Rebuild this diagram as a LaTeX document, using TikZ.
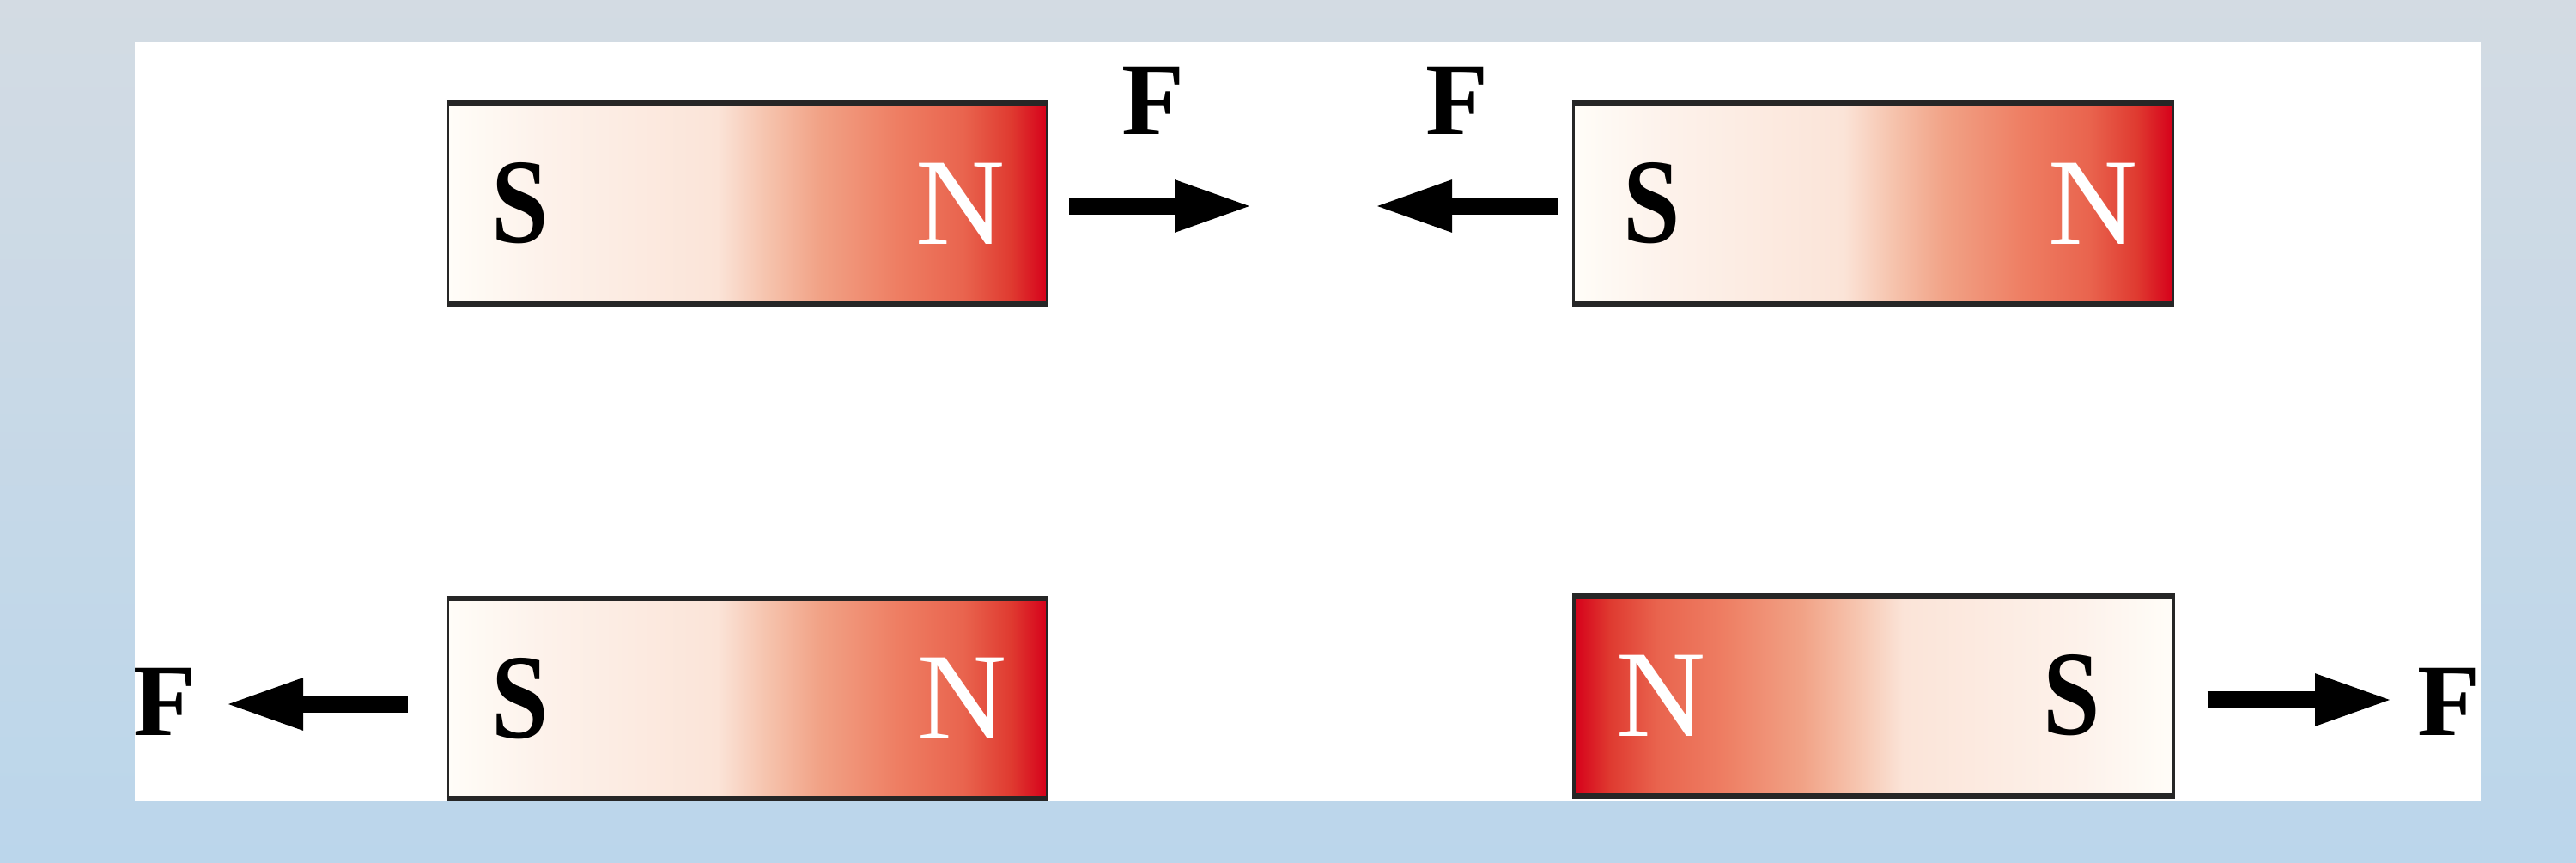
\documentclass[tikz,border=0pt]{standalone}
\usepackage{fontspec}
\setmainfont{Liberation Serif}
\usetikzlibrary{arrows.meta,positioning,calc}
\definecolor{SkyTop}{HTML}{D3DBE3}
\definecolor{SkyBottom}{HTML}{BBD6EB}
\definecolor{Rim}{HTML}{262626}
\definecolor{Cream}{HTML}{FFFDF8}
\definecolor{Blush}{HTML}{FDF2EB}
\definecolor{Peach}{HTML}{FBE4D8}
\definecolor{Apricot}{HTML}{F6C4AE}
\definecolor{Salmon}{HTML}{F1A286}
\definecolor{Coral}{HTML}{EE7E63}
\definecolor{Tomato}{HTML}{E9644E}
\definecolor{Scarlet}{HTML}{DF3A30}
\definecolor{PoleRed}{HTML}{D6001A}
% stops live between 25bp and 75bp, the part that TikZ fits to the node
\pgfdeclarehorizontalshading{southnorth}{100bp}{color(0bp)=(Cream); color(25bp)=(Cream); color(32.5bp)=(Blush); color(47.5bp)=(Peach); color(51.5bp)=(Apricot); color(56bp)=(Salmon); color(62.5bp)=(Coral); color(68bp)=(Tomato); color(72bp)=(Scarlet); color(75bp)=(PoleRed); color(100bp)=(PoleRed)}
\pgfdeclarehorizontalshading{northsouth}{100bp}{color(0bp)=(PoleRed); color(25bp)=(PoleRed); color(28bp)=(Scarlet); color(32bp)=(Tomato); color(37.5bp)=(Coral); color(44bp)=(Salmon); color(48.5bp)=(Apricot); color(52.5bp)=(Peach); color(67.5bp)=(Blush); color(75bp)=(Cream); color(100bp)=(Cream)}
\tikzset{magnet/.style={rectangle,draw=Rim,line width=0.9pt,minimum width=6.98cm,minimum height=2.3cm,inner sep=0pt},sn/.style={magnet,shading=southnorth},ns/.style={magnet,shading=northsouth},spole/.style={font=\fontsize{40}{40}\selectfont\bfseries,text=black,inner sep=0pt,xscale=0.85},npole/.style={font=\fontsize{41}{41}\selectfont,text=white,inner sep=0pt},flabel/.style={font=\fontsize{34}{34}\selectfont\bfseries,text=black,inner sep=0pt},force/.style={draw=black,line width=0.2cm,-{Triangle[length=0.92cm,width=0.55cm]}},rim/.style={draw=Rim,line width=1.8pt}}

\begin{document}
\begin{tikzpicture}[x=1cm,y=1cm]
\useasboundingbox (0,0) rectangle (30,10.04);
\shade[top color=SkyTop,bottom color=SkyBottom] (0,0) rectangle (30,10.04);
\fill[white] (1.57,0.71) rectangle (28.89,9.55);
% magnets
\node[sn] (TopL) at (8.705,7.67) {};\node[sn] (TopR) at (21.815,7.67) {};\node[sn] (BotL) at (8.705,1.905) {};\node[ns] (BotR) at (21.82,1.94) {};
\foreach \m in {TopL,TopR,BotL,BotR} \draw[rim] (\m.north west)--(\m.north east) (\m.south west)--(\m.south east);
\node[spole] (TopLS) at ($(TopL.west)+(0.86,0)$) {S};\node[npole] (TopLN) at ($(TopL.east)+(-1.03,0)$) {N};
\node[spole] (TopRS) at ($(TopR.west)+(0.93,0)$) {S};\node[npole] (TopRN) at ($(TopR.east)+(-0.95,0)$) {N};
\node[spole] (BotLS) at ($(BotL.west)+(0.86,0)$) {S};\node[npole] (BotLN) at ($(BotL.east)+(-1.01,0)$) {N};
\node[npole] (BotRN) at ($(BotR.west)+(1.03,0)$) {N};\node[spole] (BotRS) at ($(BotR.east)+(-1.2,0)$) {S};
% forces
\coordinate (TipA) at (14.60,7.64);\coordinate (TipB) at (15.99,7.64);\coordinate (TipC) at (2.61,1.84);\coordinate (TipD) at (27.88,1.89);
\draw[force] ($(TopL.east|-TipA)+(0.24,0)$)--(TipA);\draw[force] ($(TopR.west|-TipB)+(-0.16,0)$)--(TipB);
\draw[force] ($(BotL.west|-TipC)+(-0.45,0)$)--(TipC);\draw[force] ($(BotR.east|-TipD)+(0.38,0)$)--(TipD);
\node[flabel] (FA) at (13.43,8.87) {F};\node[flabel] (FB) at (16.97,8.87) {F};\node[flabel] (FC) at (1.915,1.87) {F};\node[flabel] (FD) at (28.52,1.87) {F};
\end{tikzpicture}
\end{document}
